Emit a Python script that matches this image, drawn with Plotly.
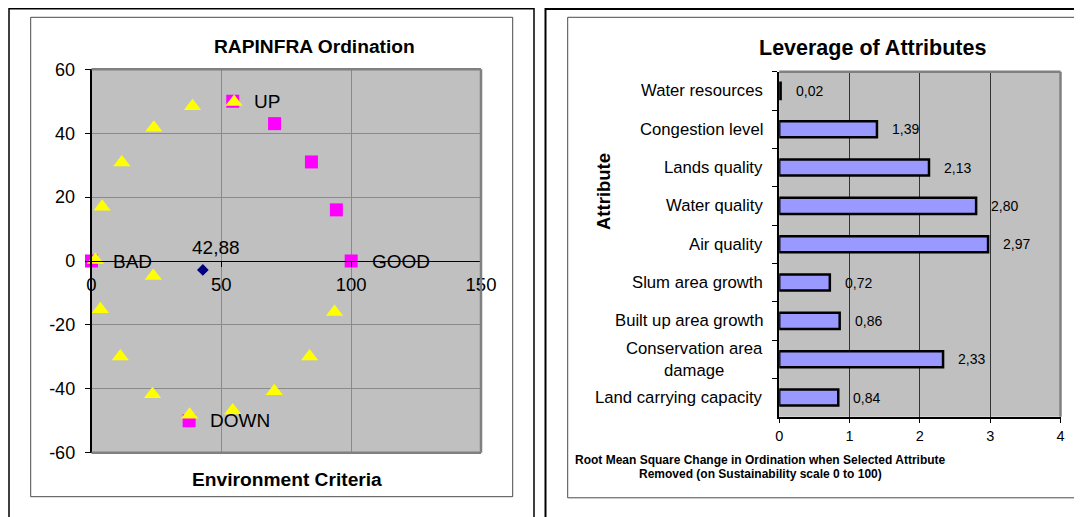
import plotly.graph_objects as go

W, H = 1082, 517
OFF = 8  # the page body adds an 8px margin; positions below are in reference pixels
FONT = "Liberation Sans, Arial, sans-serif"

# ---------------- Left chart data (RAPINFRA Ordination) ----------------
anchor_x = [0, 100, 54.4, 37.6]
anchor_y = [0, 0, 50, -50]
anchor_labels = ["BAD", "GOOD", "UP", "DOWN"]

extra_sq_x = [70.5, 84.7, 94.3]
extra_sq_y = [43, 31, 16]

tri_x = [1.5, 4.1, 11.7, 24.0, 38.9, 54.9, 23.8, 3.4, 11.1, 23.5, 37.8, 54.4, 70.4, 84.0, 93.6]
tri_y = [0.3, 17, 30.8, 41.7, 48.4, 49.8, -4.7, -15.1, -29.9, -41.7, -48.1, -46.8, -40.8, -29.9, -16]

status_x = [42.88]
status_y = [-2.8]

x_ticks_left = [0, 50, 100, 150]
y_ticks_left = [-60, -40, -20, 0, 20, 40, 60]

# ---------------- Right chart data (Leverage of Attributes) ----------------
attributes = ["Water resources", "Congestion level", "Lands quality", "Water quality",
              "Air quality", "Slum area growth", "Built up area growth",
              "Conservation area<br>damage", "Land carrying capacity"]
rms_change = [0.02, 1.39, 2.13, 2.80, 2.97, 0.72, 0.86, 2.33, 0.84]
x_ticks_right = [0, 1, 2, 3, 4]


def px(x):
    return (x - OFF) / W


def py(y):
    return 1 - (y - OFF) / H


fig = go.Figure()

# Left chart traces
fig.add_trace(go.Scatter(x=anchor_x + extra_sq_x, y=anchor_y + extra_sq_y, mode="markers",
                         marker=dict(symbol="square", size=13, color="#FF00FF"), cliponaxis=False,
                         xaxis="x", yaxis="y", showlegend=False, hoverinfo="skip"))
fig.add_trace(go.Scatter(x=tri_x, y=tri_y, mode="markers",
                         marker=dict(symbol="triangle-up", size=15, color="#FFFF00"), cliponaxis=False,
                         xaxis="x", yaxis="y", showlegend=False, hoverinfo="skip"))
fig.add_trace(go.Scatter(x=status_x, y=status_y, mode="markers",
                         marker=dict(symbol="diamond", size=9, color="#000080"), cliponaxis=False,
                         xaxis="x", yaxis="y", showlegend=False, hoverinfo="skip"))

# Right chart bars
fig.add_trace(go.Bar(x=rms_change, y=attributes, orientation="h", width=0.42,
                     marker=dict(color="#9999FF", line=dict(color="black", width=2.5)),
                     xaxis="x2", yaxis="y2", showlegend=False, hoverinfo="skip"))

left_dom_x = [px(91.5), px(481)]
left_dom_y = [py(452.7), py(69.3)]
right_dom_x = [px(779.2), px(1060.5)]
right_dom_y = [py(416.7), py(71.7)]

fig.update_layout(
    width=W, height=H, autosize=False,
    margin=dict(l=0, r=0, t=0, b=0, pad=0, autoexpand=False),
    paper_bgcolor="white",
    font=dict(family=FONT, color="black"),
    xaxis=dict(domain=left_dom_x, range=[0, 150], tickvals=x_ticks_left,
               ticktext=[str(v) for v in x_ticks_left],
               anchor="free", position=(left_dom_y[0] + left_dom_y[1]) / 2,
               showline=True, linecolor="black", linewidth=1.3,
               ticks="outside", ticklen=5, tickcolor="black",
               showgrid=True, gridcolor="#8a8a8a", gridwidth=1, automargin=False,
               zeroline=False, tickfont=dict(size=18.5), ticklabelstandoff=2),
    yaxis=dict(domain=left_dom_y, range=[-60, 60], tickvals=y_ticks_left,
               ticktext=[str(v) for v in y_ticks_left],
               anchor="x", showline=True, linecolor="black", linewidth=1.5,
               ticks="outside", ticklen=5, tickcolor="black", automargin=False,
               showgrid=True, gridcolor="#8a8a8a", gridwidth=1,
               zeroline=False, tickfont=dict(size=18), ticklabelstandoff=6),
    xaxis2=dict(domain=right_dom_x, range=[0, 4], tickvals=x_ticks_right, anchor="y2",
                showline=True, linecolor="black", linewidth=1.5,
                ticks="outside", ticklen=5, tickcolor="black", automargin=False,
                showgrid=True, gridcolor="#333333", gridwidth=1.3,
                zeroline=False, tickfont=dict(size=14.5), ticklabelstandoff=0),
    yaxis2=dict(domain=right_dom_y, anchor="x2", autorange="reversed",
                categoryorder="array", categoryarray=attributes,
                showline=True, linecolor="black", linewidth=1.5, automargin=False,
                ticks="outside", ticklen=5, tickcolor="black", tickson="boundaries",
                showticklabels=False, showgrid=False, zeroline=False),
    plot_bgcolor="#C0C0C0",
)

shapes = []
# Outer frames
shapes.append(dict(type="rect", xref="paper", yref="paper", x0=px(9), x1=px(534), y0=-0.2, y1=py(8.75),
                   line=dict(color="black", width=1.5), layer="above"))
shapes.append(dict(type="rect", xref="paper", yref="paper", x0=px(545.5), x1=1.2, y0=-0.2, y1=py(9),
                   line=dict(color="black", width=2), layer="above"))
# Inner frames
shapes.append(dict(type="rect", xref="paper", yref="paper", x0=px(30.7), x1=px(512.7), y0=py(496.7), y1=py(17.3),
                   line=dict(color="#4a4a4a", width=1), layer="above"))
for (x0, y0, x1, y1) in [(567.7, 17.3, 1075.7, 17.3), (567.7, 497.8, 1075.7, 497.8), (567.7, 17.3, 567.7, 497.8)]:
    shapes.append(dict(type="line", xref="paper", yref="paper", x0=px(x0), x1=px(x1), y0=py(y0), y1=py(y1),
                       line=dict(color="#4a4a4a", width=1), layer="above"))
# Plot-area gray borders (left chart: top, right, bottom; right chart: top, right)
gray = dict(color="#808080", width=2.5)
for (x0, y0, x1, y1) in [(0, 1, 1, 1), (1, 0, 1, 1), (0, 0, 1, 0)]:
    shapes.append(dict(type="line", xref="x domain", yref="y domain", x0=x0, x1=x1, y0=y0, y1=y1,
                       line=gray, layer="above"))
for (x0, y0, x1, y1) in [(0, 1, 1, 1), (1, 0, 1, 1)]:
    shapes.append(dict(type="line", xref="x2 domain", yref="y2 domain", x0=x0, x1=x1, y0=y0, y1=y1,
                       line=gray, layer="above"))
fig.update_layout(shapes=shapes)

ann = []
# Left chart labels
for x, y, t in zip(anchor_x, anchor_y, anchor_labels):
    ann.append(dict(x=x, y=y, xref="x", yref="y", text=t, showarrow=False, xanchor="left",
                    yanchor="middle", xshift=19, font=dict(size=19)))
for x, y in zip(status_x, status_y):
    ann.append(dict(x=x, y=y, xref="x", yref="y", text=f"{x:.2f}".replace(".", ","), showarrow=False,
                    xanchor="center", yanchor="middle", xshift=13, yshift=22, font=dict(size=19)))
ann.append(dict(x=px(314.5), y=py(46.7), xref="paper", yref="paper", text="<b>RAPINFRA Ordination</b>",
                showarrow=False, xanchor="center", yanchor="middle", font=dict(size=19.2)))
ann.append(dict(x=px(286.7), y=py(479), xref="paper", yref="paper", text="<b>Environment Criteria</b>",
                showarrow=False, xanchor="center", yanchor="middle", font=dict(size=19.2)))

# Right chart labels
for a, v in zip(attributes, rms_change):
    ann.append(dict(x=v, y=a, xref="x2", yref="y2", text=f"{v:.2f}".replace(".", ","), showarrow=False,
                    xanchor="left", yanchor="middle", xshift=13, font=dict(size=14)))
    ann.append(dict(x=0, y=a, xref="x2", yref="y2", text=a, showarrow=False, align="center",
                    xanchor="right", yanchor="middle", xshift=-14, font=dict(size=16.7)))
ann.append(dict(x=px(872.2), y=py(48.3), xref="paper", yref="paper", text="<b>Leverage of Attributes</b>",
                showarrow=False, xanchor="center", yanchor="middle", font=dict(size=21.5)))
ann.append(dict(x=px(604), y=py(192), xref="paper", yref="paper", text="<b>Attribute</b>", textangle=-90,
                showarrow=False, xanchor="center", yanchor="middle", font=dict(size=18.5)))
ann.append(dict(x=px(760), y=py(460.3), xref="paper", yref="paper",
                text="<b>Root Mean Square Change in Ordination when Selected Attribute</b>",
                showarrow=False, xanchor="center", yanchor="middle", font=dict(size=12)))
ann.append(dict(x=px(760), y=py(473.7), xref="paper", yref="paper",
                text="<b>Removed (on Sustainability scale 0 to 100)</b>",
                showarrow=False, xanchor="center", yanchor="middle", font=dict(size=12)))
fig.update_layout(annotations=ann)

fig.write_html("out.html")
